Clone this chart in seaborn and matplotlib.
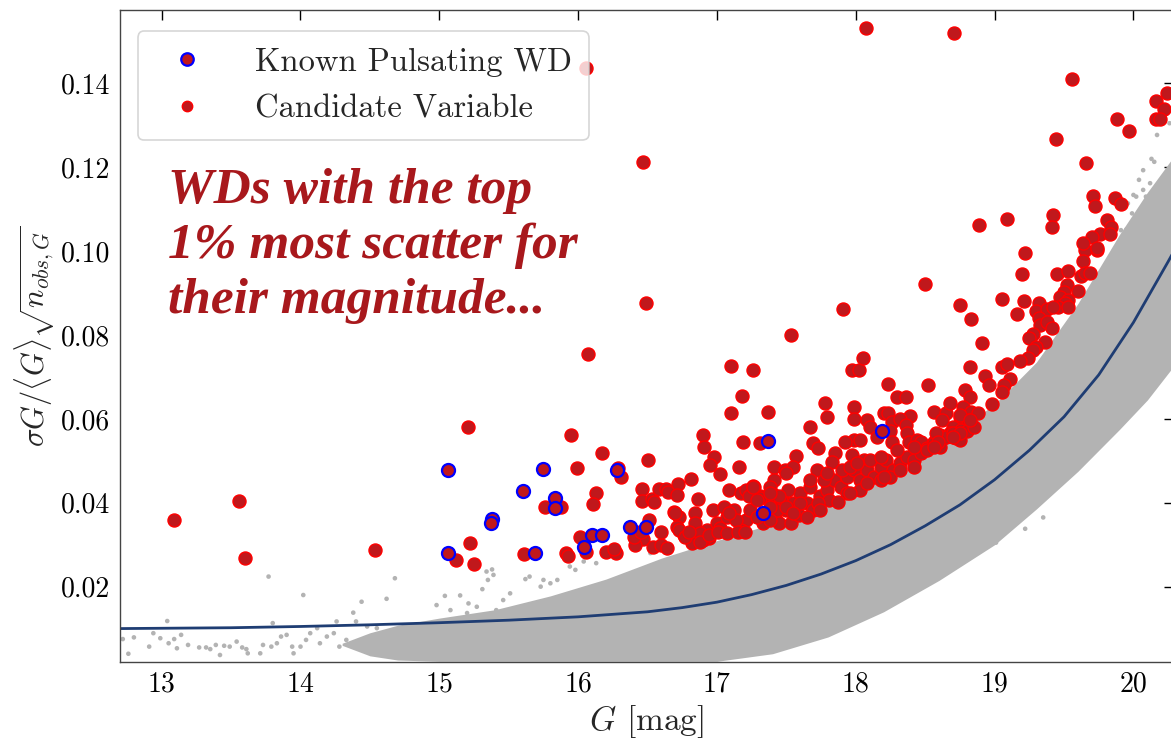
import matplotlib
matplotlib.use("Agg")
import numpy as np
import pandas as pd
import matplotlib.pyplot as plt
from matplotlib.lines import Line2D
import seaborn as sns

# ---- values ----
# candidate variables (top 1% scatter)
cand_G = [13.09, 13.56, 13.60, 14.54, 15.21, 15.12, 15.22, 15.25, 15.95, 15.99, 15.76, 15.88,
          16.13, 16.11, 16.17, 16.31, 16.29, 16.50, 15.61, 15.91, 15.93, 16.06, 16.01, 16.20,
          16.27, 16.26, 16.42, 16.47, 16.41, 16.51, 16.46, 16.46, 16.53, 16.55, 16.58, 16.63,
          16.65, 16.72, 16.71, 16.81, 16.86, 16.90, 16.91, 16.98, 16.95, 17.02, 17.10, 17.18,
          17.37, 17.19, 17.16, 17.31, 17.57, 17.41, 17.49, 17.55,
          16.69, 16.73, 16.71, 16.76, 16.84, 16.84, 16.87, 16.93, 16.97, 17.00, 17.05, 17.12,
          17.09, 17.17, 17.21, 17.26, 17.31, 17.21, 17.17, 17.38, 17.42, 17.45, 17.50, 17.57,
          17.60, 16.54, 16.60, 16.64, 16.82, 16.94, 16.90, 17.02, 17.07, 17.24, 17.33, 17.53,
          17.55, 17.41, 17.38, 17.27, 17.23, 17.31, 17.41, 17.46, 17.51, 17.50, 17.43, 17.59,
          17.38, 17.29, 17.14, 17.09, 16.88, 16.88, 16.94, 17.01, 17.07, 17.15, 17.20, 16.70,
          16.73, 16.77, 16.80, 16.40, 16.45, 16.60,
          17.97, 18.02, 18.23, 18.52, 18.30, 18.36, 18.79, 18.82, 17.78, 17.99, 17.79, 17.99,
          18.20, 18.23, 18.39, 18.56, 18.65, 18.68, 18.77, 18.83, 18.75, 18.81, 18.08, 18.10,
          18.26, 18.32, 18.36, 18.25, 18.15, 18.26, 18.37, 18.38, 18.44, 18.47, 18.62, 18.70,
          18.76, 18.68, 18.61, 18.56, 18.51, 18.63, 18.72, 17.67, 17.69, 17.73, 17.85, 17.83,
          17.99, 18.03, 17.92, 17.97, 18.06,
          17.65, 17.69, 17.74, 17.79, 17.84, 17.89, 17.94, 17.99, 18.03, 18.08, 18.13, 18.18,
          18.22, 18.27, 18.32, 18.37, 18.42, 18.47, 18.51, 18.56, 18.61, 18.65, 18.70, 18.75,
          18.80, 18.85, 17.72, 17.77, 17.67, 17.60, 17.50, 17.45, 17.90, 17.96, 18.01, 18.10,
          18.18, 18.30, 18.42, 18.58, 18.03, 17.94, 17.81, 17.87, 17.73, 18.18, 18.25,
          19.22, 19.65, 19.74, 19.64, 19.20, 19.45, 19.53, 19.62, 19.65, 19.69, 18.50, 19.52,
          19.50, 19.60, 19.47, 19.53, 19.51, 19.46, 19.53, 19.05, 19.21, 19.32, 19.30, 19.38,
          19.42, 18.75, 18.83, 19.16, 19.32, 19.33, 19.38, 19.41, 18.91, 19.28, 19.25, 19.36,
          19.30, 19.28, 19.24, 19.18, 18.82, 19.05, 19.09, 18.93, 18.96, 19.11, 19.07, 19.05,
          18.98, 18.75, 18.88, 18.75, 18.82, 18.70, 18.59, 18.56,
          19.56, 20.24, 20.16, 20.22, 20.16, 20.19, 19.88, 19.97, 19.44, 19.66, 19.71, 19.72,
          19.87, 19.91, 18.89, 19.09, 19.42, 19.41, 19.81, 19.84, 19.76, 19.83, 19.70, 19.64,
          19.74,
          18.07, 18.71, 17.91, 16.06, 16.47, 16.49, 16.07, 17.53, 17.10, 17.26, 18.05,
          17.29, 17.38, 17.55, 17.65, 17.74, 17.96, 18.08, 18.20, 18.32, 18.42, 17.38, 17.50,
          17.67, 17.79, 17.26]
cand_sig = [0.0359, 0.0405, 0.0269, 0.0288, 0.0581, 0.0264, 0.0303, 0.0253, 0.0561, 0.0482, 0.0391, 0.0389,
            0.0423, 0.0397, 0.0518, 0.0462, 0.0482, 0.0502, 0.0278, 0.0280, 0.0274, 0.0282, 0.0318, 0.0283,
            0.0281, 0.0289, 0.0331, 0.0314, 0.0299, 0.0359, 0.0433, 0.0405, 0.0409, 0.0401, 0.0432, 0.0432,
            0.0425, 0.0444, 0.0419, 0.0457, 0.0409, 0.0561, 0.0532, 0.0510, 0.0489, 0.0468, 0.0613, 0.0655,
            0.0616, 0.0544, 0.0485, 0.0542, 0.0512, 0.0485, 0.0478, 0.0485,
            0.0379, 0.0367, 0.0343, 0.0323, 0.0375, 0.0351, 0.0311, 0.0335, 0.0383, 0.0351, 0.0391, 0.0383,
            0.0430, 0.0423, 0.0430, 0.0440, 0.0415, 0.0359, 0.0335, 0.0415, 0.0367, 0.0351, 0.0399, 0.0375,
            0.0423, 0.0295, 0.0299, 0.0292, 0.0305, 0.0315, 0.0311, 0.0339, 0.0367, 0.0383, 0.0351, 0.0351,
            0.0399, 0.0454, 0.0438, 0.0438, 0.0415, 0.0411, 0.0419, 0.0407, 0.0430, 0.0383, 0.0383, 0.0371,
            0.0359, 0.0367, 0.0359, 0.0375, 0.0327, 0.0307, 0.0323, 0.0331, 0.0327, 0.0331, 0.0331, 0.0375,
            0.0335, 0.0319, 0.0331, 0.0319, 0.0331, 0.0331,
            0.0717, 0.0717, 0.0683, 0.0681, 0.0653, 0.0653, 0.0669, 0.0653, 0.0637, 0.0629, 0.0605, 0.0600,
            0.0615, 0.0613, 0.0608, 0.0617, 0.0613, 0.0637, 0.0629, 0.0617, 0.0605, 0.0597, 0.0597, 0.0581,
            0.0593, 0.0599, 0.0585, 0.0570, 0.0558, 0.0546, 0.0566, 0.0546, 0.0550, 0.0546, 0.0597, 0.0581,
            0.0574, 0.0566, 0.0562, 0.0546, 0.0530, 0.0554, 0.0554, 0.0580, 0.0542, 0.0530, 0.0518, 0.0498,
            0.0550, 0.0550, 0.0546, 0.0514, 0.0502,
            0.0399, 0.0383, 0.0415, 0.0430, 0.0454, 0.0438, 0.0462, 0.0478, 0.0454, 0.0478, 0.0462, 0.0486,
            0.0502, 0.0478, 0.0494, 0.0510, 0.0502, 0.0518, 0.0526, 0.0542, 0.0534, 0.0558, 0.0566, 0.0550,
            0.0570, 0.0581, 0.0478, 0.0454, 0.0438, 0.0399, 0.0391, 0.0415, 0.0478, 0.0486, 0.0494, 0.0502,
            0.0510, 0.0526, 0.0534, 0.0566, 0.0430, 0.0423, 0.0407, 0.0403, 0.0399, 0.0454, 0.0462,
            0.0995, 0.1003, 0.1003, 0.0977, 0.0945, 0.0945, 0.0953, 0.0941, 0.0947, 0.0947, 0.0921, 0.0919,
            0.0903, 0.0906, 0.0891, 0.0883, 0.0876, 0.0866, 0.0866, 0.0887, 0.0882, 0.0877, 0.0858, 0.0861,
            0.0866, 0.0872, 0.0838, 0.0849, 0.0840, 0.0824, 0.0832, 0.0816, 0.0782, 0.0802, 0.0792, 0.0784,
            0.0772, 0.0764, 0.0744, 0.0738, 0.0724, 0.0723, 0.0731, 0.0702, 0.0681, 0.0694, 0.0681, 0.0665,
            0.0635, 0.0609, 0.0615, 0.0567, 0.0597, 0.0558, 0.0546, 0.0534,
            0.1411, 0.1378, 0.1359, 0.1338, 0.1316, 0.1316, 0.1316, 0.1286, 0.1267, 0.1209, 0.1131, 0.1108,
            0.1126, 0.1112, 0.1063, 0.1077, 0.1085, 0.1057, 0.1074, 0.1058, 0.1042, 0.1042, 0.1033, 0.1020,
            0.1007,
            0.1532, 0.1520, 0.0861, 0.1436, 0.1212, 0.0876, 0.0755, 0.0800, 0.0727, 0.0717, 0.0744,
            0.0407, 0.0391, 0.0375, 0.0367, 0.0383, 0.0423, 0.0446, 0.0462, 0.0478, 0.0486, 0.0423, 0.0470,
            0.0454, 0.0470, 0.0438]

# known pulsating white dwarfs
known_G = [15.06, 15.06, 15.38, 15.37, 15.60, 15.75, 15.83, 15.83, 16.04, 16.10, 16.17, 16.28,
           16.37, 16.49, 15.69, 17.37, 17.33, 18.19]
known_sig = [0.0478, 0.0280, 0.0361, 0.0351, 0.0428, 0.0481, 0.0412, 0.0387, 0.0295, 0.0324, 0.0324, 0.0477,
             0.0343, 0.0343, 0.0281, 0.0547, 0.0375, 0.0570]

# isolated grey points (rest of the sample outside the dense band)
grey_G = [12.72, 12.76, 12.80, 12.91, 12.94, 12.99, 13.04, 13.05, 13.09, 13.11, 13.14, 13.19,
          13.27, 13.32, 13.35, 13.39, 13.42, 13.45, 13.49, 13.54, 13.58, 13.61, 13.62, 13.71,
          13.73, 13.77, 13.79, 13.80, 13.83, 13.86, 13.90, 13.94, 13.95, 14.02, 14.00, 14.04,
          14.07, 14.12, 14.14, 14.19, 14.24, 14.26, 14.28, 14.33, 14.38, 14.40, 14.44, 14.48,
          14.52, 14.55, 14.62, 14.68, 14.72, 14.74, 14.79, 14.98, 15.04, 15.08, 15.15, 15.21,
          15.20, 15.27, 15.31, 15.35, 15.34, 15.39, 15.41, 15.38, 15.46, 15.51, 15.62, 15.65,
          15.73, 15.75, 15.80, 15.85, 15.94, 15.98, 16.04, 16.13, 15.92, 16.52, 16.57, 16.64,
          20.17, 20.26, 20.13, 20.15, 20.07, 20.04, 20.00, 19.96, 20.02, 19.99, 20.07, 20.12,
          20.09, 19.95, 19.91,
          19.35, 19.22, 19.01, 18.81, 18.69, 18.51, 18.44, 18.32]
grey_sig = [0.0075, 0.0040, 0.0079, 0.0057, 0.0089, 0.0077, 0.0118, 0.0065, 0.0075, 0.0053, 0.0085, 0.0061,
            0.0055, 0.0055, 0.0051, 0.0061, 0.0037, 0.0059, 0.0057, 0.0069, 0.0055, 0.0051, 0.0041, 0.0041,
            0.0061, 0.0224, 0.0057, 0.0113, 0.0065, 0.0081, 0.0085, 0.0057, 0.0041, 0.0180, 0.0057, 0.0073,
            0.0089, 0.0101, 0.0065, 0.0081, 0.0089, 0.0117, 0.0057, 0.0073, 0.0138, 0.0117, 0.0164, 0.0105,
            0.0073, 0.0101, 0.0171, 0.0220, 0.0073, 0.0089, 0.0105, 0.0156, 0.0178, 0.0144, 0.0179, 0.0160,
            0.0137, 0.0152, 0.0194, 0.0216, 0.0236, 0.0228, 0.0144, 0.0241, 0.0168, 0.0184, 0.0218, 0.0224,
            0.0200, 0.0216, 0.0208, 0.0216, 0.0248, 0.0240, 0.0260, 0.0256, 0.0276, 0.0280, 0.0248, 0.0280,
            0.1277, 0.1305, 0.1220, 0.1213, 0.1193, 0.1170, 0.1134, 0.1114, 0.1130, 0.1090, 0.1146, 0.1162,
            0.1130, 0.1052, 0.1050,
            0.0365, 0.0338, 0.0305, 0.0266, 0.0248, 0.0232, 0.0210, 0.0200]

# outline of the dense grey band (bulk of the sample)
env_G = [14.3, 14.5, 14.7, 15.0, 15.4, 15.8, 16.2, 16.6, 17.0, 17.4, 17.8, 18.2, 18.6, 19.0,
         19.3, 19.6, 19.9, 20.1, 20.3]
env_lo = [0.0060, 0.0035, 0.0025, 0.0022, 0.0022, 0.0022, 0.0022, 0.0022, 0.0022, 0.0040, 0.0080,
          0.0140, 0.0215, 0.0300, 0.0385, 0.0475, 0.0575, 0.0645, 0.0730]
env_hi = [0.0065, 0.0090, 0.0108, 0.0125, 0.0145, 0.0178, 0.0218, 0.0268, 0.0310, 0.0350, 0.0398,
          0.0458, 0.0540, 0.0635, 0.0735, 0.0875, 0.1040, 0.1140, 0.1230]

# median scatter curve
line_G = [12.70, 13.5, 14.0, 14.5, 15.0, 15.5, 16.0, 16.5, 16.75, 17.0, 17.25, 17.5, 17.75,
          18.0, 18.25, 18.5, 18.75, 19.0, 19.25, 19.5, 19.75, 20.0, 20.25, 20.3]
line_sig = [0.0100, 0.0102, 0.0105, 0.0109, 0.0114, 0.0120, 0.0128, 0.0140, 0.0150, 0.0163, 0.0181,
            0.0203, 0.0230, 0.0262, 0.0300, 0.0345, 0.0395, 0.0455, 0.0525, 0.0605, 0.0705, 0.0830,
            0.0975, 0.1005]

cand = pd.DataFrame({'G': cand_G, 'sig': cand_sig})
known = pd.DataFrame({'G': known_G, 'sig': known_sig})
grey = pd.DataFrame({'G': grey_G, 'sig': grey_sig})
curve = pd.DataFrame({'G': line_G, 'sig': line_sig})

sns.set_style("white")
plt.rcParams['font.family'] = 'serif'
plt.rcParams['font.serif'] = ['cmr10', 'DejaVu Serif']
plt.rcParams['mathtext.fontset'] = 'cm'
plt.rcParams['axes.formatter.use_mathtext'] = True
plt.rcParams['axes.unicode_minus'] = False

grey_c = '#b3b3b3'
dark_red = '#c0181c'

fig = plt.figure(figsize=(11.71, 7.4), dpi=100)
ax = fig.add_axes([0.1025, 0.1058, 0.8998, 0.8807])

# bulk of the sample
ax.fill_between(env_G, env_lo, env_hi, color=grey_c, lw=0, zorder=1)
sns.scatterplot(data=grey, x='G', y='sig', color=grey_c, s=11, edgecolor='none', ax=ax, zorder=1)

sns.lineplot(data=curve, x='G', y='sig', color='#1f3d73', lw=2.0, ax=ax, zorder=2)

sns.scatterplot(data=cand, x='G', y='sig', color=dark_red, edgecolor='red', linewidth=1.0,
                s=88, ax=ax, zorder=3)
sns.scatterplot(data=known, x='G', y='sig', color=dark_red, edgecolor='blue', linewidth=1.6,
                s=88, ax=ax, zorder=4)

ax.set_xlim(12.70, 20.29)
ax.set_ylim(0.0021, 0.1575)
ax.set_xticks([13, 14, 15, 16, 17, 18, 19, 20])
ax.set_yticks([0.02, 0.04, 0.06, 0.08, 0.10, 0.12, 0.14])
ax.set_yticklabels(['0.02', '0.04', '0.06', '0.08', '0.10', '0.12', '0.14'])
ax.set_xticklabels(['13', '14', '15', '16', '17', '18', '19', '20'])
ax.tick_params(direction='in', top=True, right=True, length=7, width=1,
               labelsize=20, pad=7, colors='black')
for sp in ax.spines.values():
    sp.set_color('#444444')
    sp.set_linewidth(1.0)

ax.set_xlabel(r'$G$ [mag]', fontsize=24, labelpad=4)
ax.set_ylabel(r'$\sigma G/\langle G\rangle\sqrt{n_{obs,G}}$', fontsize=22, labelpad=3)

handles = [Line2D([], [], ls='', marker='o', markerfacecolor=dark_red, markeredgecolor='blue',
                  markeredgewidth=1.6, markersize=9),
           Line2D([], [], ls='', marker='o', markerfacecolor=dark_red, markeredgecolor='red',
                  markeredgewidth=1.0, markersize=7.5)]
leg = ax.legend(handles, ['Known Pulsating WD', 'Candidate Variable'], loc='upper left',
                bbox_to_anchor=(0.017, 0.967), borderaxespad=0, fontsize=23.5,
                handletextpad=1.1, handlelength=2.0, borderpad=0.5, labelspacing=0.55,
                frameon=True, fancybox=True)
leg.get_frame().set_edgecolor('#cccccc')
leg.get_frame().set_linewidth(1.2)

ax.text(0.046, 0.758, 'WDs with the top\n1% most scatter for\ntheir magnitude...',
        transform=ax.transAxes, ha='left', va='top', fontsize=37, color='#a8181c',
        family='Liberation Serif', fontweight='bold', fontstyle='italic', linespacing=1.25)

fig.savefig('out.png', dpi=100)
